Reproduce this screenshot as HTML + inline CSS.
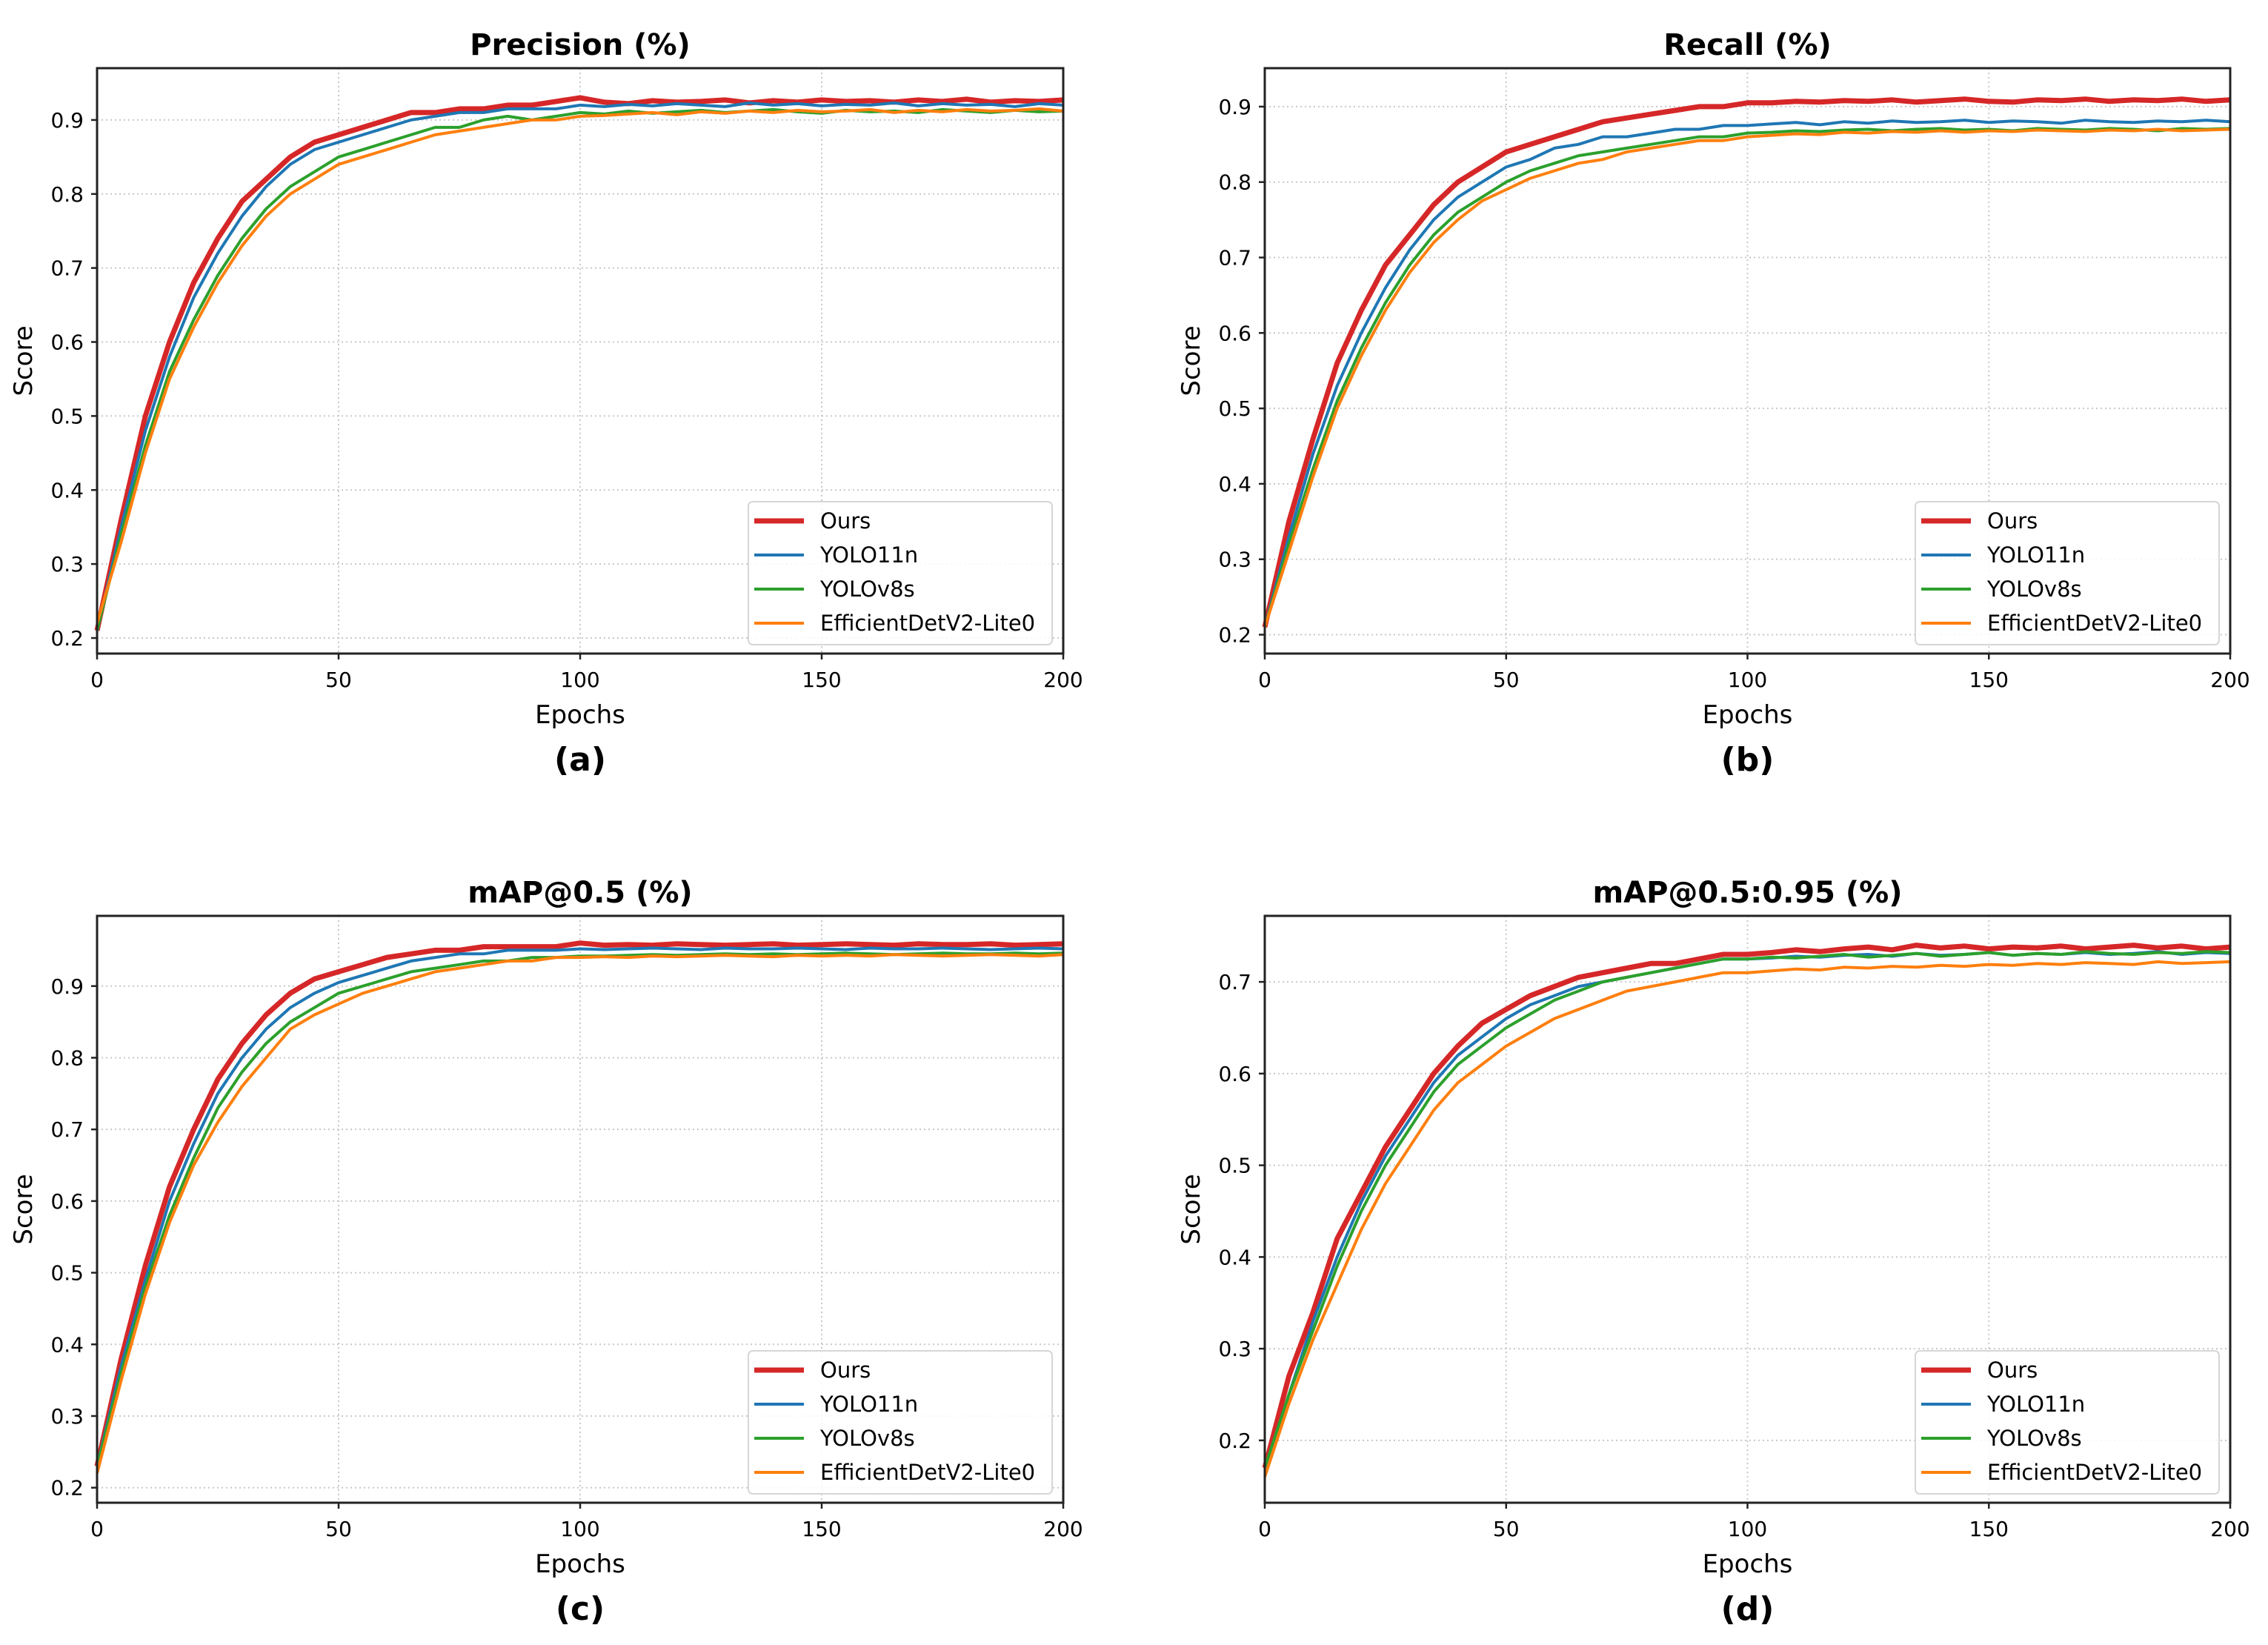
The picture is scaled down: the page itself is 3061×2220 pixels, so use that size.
<!DOCTYPE html>
<html><head><meta charset="utf-8">
<style>
html,body{margin:0;padding:0;background:#fff;}
svg{display:block;}
text{font-family:"DejaVu Sans","Liberation Sans",sans-serif;fill:#000;}
</style></head>
<body>
<svg id="fig" width="3061" height="2220" viewBox="0 0 3061 2220" xmlns="http://www.w3.org/2000/svg"></svg>
<script>
// ---- data (sampled every 5 epochs) ----
const epochs = [0,5,10,15,20,25,30,35,40,45,50,55,60,65,70,75,80,85,90,95,100,105,110,115,120,125,130,135,140,145,150,155,160,165,170,175,180,185,190,195,200];
const seriesNames = ["Ours","YOLO11n","YOLOv8s","EfficientDetV2-Lite0"];
const panelTitles = ["Precision (%)","Recall (%)","mAP@0.5 (%)","mAP@0.5:0.95 (%)"];
const panelLetters = ["(a)","(b)","(c)","(d)"];
const xTicks = [0,50,100,150,200];
const yTicksA = [0.2,0.3,0.4,0.5,0.6,0.7,0.8,0.9];
const yTicksD = [0.2,0.3,0.4,0.5,0.6,0.7];

const precOurs = [0.21,0.36,0.50,0.60,0.68,0.74,0.79,0.82,0.85,0.87,0.88,0.89,0.90,0.91,0.91,0.915,0.915,0.92,0.92,0.925,0.93,0.924,0.922,0.926,0.924,0.925,0.927,0.923,0.926,0.924,0.927,0.925,0.926,0.924,0.927,0.925,0.928,0.924,0.926,0.925,0.927];
const precYolo11 = [0.21,0.35,0.48,0.58,0.66,0.72,0.77,0.81,0.84,0.86,0.87,0.88,0.89,0.90,0.905,0.91,0.91,0.915,0.915,0.915,0.92,0.918,0.921,0.919,0.922,0.92,0.918,0.923,0.92,0.922,0.919,0.921,0.92,0.923,0.919,0.922,0.92,0.921,0.918,0.922,0.92];
const precV8 = [0.21,0.34,0.46,0.56,0.63,0.69,0.74,0.78,0.81,0.83,0.85,0.86,0.87,0.88,0.89,0.89,0.90,0.905,0.90,0.905,0.91,0.908,0.912,0.909,0.911,0.913,0.91,0.912,0.914,0.911,0.909,0.913,0.911,0.912,0.91,0.914,0.912,0.91,0.913,0.911,0.912];
const precEff = [0.22,0.33,0.45,0.55,0.62,0.68,0.73,0.77,0.80,0.82,0.84,0.85,0.86,0.87,0.88,0.885,0.89,0.895,0.90,0.90,0.905,0.906,0.908,0.91,0.907,0.911,0.909,0.912,0.91,0.913,0.911,0.912,0.914,0.91,0.913,0.911,0.914,0.912,0.913,0.915,0.912];

const recOurs = [0.21,0.35,0.46,0.56,0.63,0.69,0.73,0.77,0.80,0.82,0.84,0.85,0.86,0.87,0.88,0.885,0.89,0.895,0.90,0.90,0.905,0.905,0.907,0.906,0.908,0.907,0.909,0.906,0.908,0.91,0.907,0.906,0.909,0.908,0.91,0.907,0.909,0.908,0.91,0.907,0.909];
const recYolo11 = [0.21,0.33,0.44,0.53,0.60,0.66,0.71,0.75,0.78,0.80,0.82,0.83,0.845,0.85,0.86,0.86,0.865,0.87,0.87,0.875,0.875,0.877,0.879,0.876,0.88,0.878,0.881,0.879,0.88,0.882,0.879,0.881,0.88,0.878,0.882,0.88,0.879,0.881,0.88,0.882,0.88];
const recV8 = [0.21,0.32,0.42,0.51,0.58,0.64,0.69,0.73,0.76,0.78,0.80,0.815,0.825,0.835,0.84,0.845,0.85,0.855,0.86,0.86,0.865,0.866,0.868,0.867,0.869,0.87,0.868,0.87,0.871,0.869,0.87,0.868,0.871,0.87,0.869,0.871,0.87,0.868,0.871,0.87,0.871];
const recEff = [0.21,0.31,0.41,0.50,0.57,0.63,0.68,0.72,0.75,0.775,0.79,0.805,0.815,0.825,0.83,0.84,0.845,0.85,0.855,0.855,0.86,0.862,0.864,0.863,0.866,0.865,0.867,0.866,0.868,0.866,0.868,0.867,0.869,0.868,0.867,0.869,0.868,0.87,0.868,0.869,0.87];

const m50Ours = [0.23,0.38,0.51,0.62,0.70,0.77,0.82,0.86,0.89,0.91,0.92,0.93,0.94,0.945,0.95,0.95,0.955,0.955,0.955,0.955,0.96,0.957,0.958,0.957,0.959,0.958,0.957,0.958,0.959,0.957,0.958,0.959,0.958,0.957,0.959,0.958,0.958,0.959,0.957,0.958,0.959];
const m50Yolo11 = [0.23,0.37,0.49,0.60,0.68,0.75,0.80,0.84,0.87,0.89,0.905,0.915,0.925,0.935,0.94,0.945,0.945,0.95,0.95,0.95,0.952,0.951,0.952,0.953,0.952,0.951,0.953,0.952,0.952,0.953,0.952,0.951,0.953,0.952,0.952,0.953,0.952,0.951,0.952,0.953,0.952];
const m50V8 = [0.23,0.36,0.48,0.58,0.66,0.73,0.78,0.82,0.85,0.87,0.89,0.90,0.91,0.92,0.925,0.93,0.935,0.935,0.94,0.94,0.942,0.942,0.943,0.944,0.943,0.944,0.945,0.944,0.945,0.944,0.945,0.946,0.945,0.944,0.945,0.946,0.945,0.945,0.946,0.945,0.946];
const m50Eff = [0.22,0.35,0.47,0.57,0.65,0.71,0.76,0.80,0.84,0.86,0.875,0.89,0.90,0.91,0.92,0.925,0.93,0.935,0.935,0.94,0.94,0.941,0.94,0.942,0.941,0.942,0.943,0.942,0.941,0.943,0.942,0.943,0.942,0.944,0.943,0.942,0.943,0.944,0.943,0.942,0.944];

const m95Ours = [0.17,0.27,0.34,0.42,0.47,0.52,0.56,0.60,0.63,0.655,0.67,0.685,0.695,0.705,0.71,0.715,0.72,0.72,0.725,0.73,0.73,0.732,0.735,0.733,0.736,0.738,0.735,0.74,0.737,0.739,0.736,0.738,0.737,0.739,0.736,0.738,0.74,0.737,0.739,0.736,0.738];
const m95Yolo11 = [0.17,0.25,0.33,0.40,0.46,0.51,0.55,0.59,0.62,0.64,0.66,0.675,0.685,0.695,0.70,0.705,0.71,0.715,0.72,0.725,0.725,0.726,0.728,0.727,0.729,0.73,0.728,0.731,0.729,0.73,0.732,0.729,0.731,0.73,0.732,0.73,0.731,0.733,0.73,0.732,0.731];
const m95V8 = [0.17,0.25,0.32,0.39,0.45,0.50,0.54,0.58,0.61,0.63,0.65,0.665,0.68,0.69,0.70,0.705,0.71,0.715,0.72,0.725,0.725,0.727,0.726,0.728,0.73,0.727,0.729,0.731,0.728,0.73,0.732,0.729,0.731,0.73,0.733,0.731,0.73,0.732,0.731,0.733,0.732];
const m95Eff = [0.16,0.24,0.31,0.37,0.43,0.48,0.52,0.56,0.59,0.61,0.63,0.645,0.66,0.67,0.68,0.69,0.695,0.70,0.705,0.71,0.71,0.712,0.714,0.713,0.716,0.715,0.717,0.716,0.718,0.717,0.719,0.718,0.72,0.719,0.721,0.72,0.719,0.722,0.72,0.721,0.722];

const panelData = [
  [precOurs,precYolo11,precV8,precEff],
  [recOurs,recYolo11,recV8,recEff],
  [m50Ours,m50Yolo11,m50V8,m50Eff],
  [m95Ours,m95Yolo11,m95V8,m95Eff]
];

// ---- layout ----
const colors = ["#d62728","#1f77b4","#2ca02c","#ff7f0e"];
const widths = [7,4,4,4];
const panels = [
  {x0:131,x1:1435,y0:92,y1:882,v0:0.179,v1:0.970,ticks:yTicksA,id:"precision"},
  {x0:1707,x1:3010,y0:92,y1:882,v0:0.175,v1:0.951,ticks:yTicksA,id:"recall"},
  {x0:131,x1:1435,y0:1236,y1:2028,v0:0.179,v1:0.998,ticks:yTicksA,id:"map50"},
  {x0:1707,x1:3010,y0:1236,y1:2028,v0:0.132,v1:0.772,ticks:yTicksD,id:"map50-95"}
];
const NS = "http://www.w3.org/2000/svg";
const svg = document.getElementById("fig");
function mk(tag, attrs, parent){
  const e = document.createElementNS(NS, tag);
  for (const k in attrs) e.setAttribute(k, attrs[k]);
  (parent||svg).appendChild(e);
  return e;
}

panels.forEach((p, pi) => {
  const g = mk("g", {});
  
  
  const xs = v => p.x0 + (v - 0) / 200 * (p.x1 - p.x0);
  const ys = v => p.y1 - (v - p.v0) / (p.v1 - p.v0) * (p.y1 - p.y0);

  // grid
  xTicks.forEach(t => {
    const l = mk("line", {x1:xs(t), x2:xs(t), y1:p.y0, y2:p.y1, stroke:"#c8c8c8", "stroke-width":2, "stroke-dasharray":"2,4"}, g);
    
    
  });
  p.ticks.forEach(t => {
    const l = mk("line", {x1:p.x0, x2:p.x1, y1:ys(t), y2:ys(t), stroke:"#c8c8c8", "stroke-width":2, "stroke-dasharray":"2,4"}, g);
    
    
  });

  // series
  panelData[pi].forEach((vals, si) => {
    const pts = vals.map((v, i) => xs(epochs[i]).toFixed(1) + "," + ys(v).toFixed(1)).join(" ");
    const pl = mk("polyline", {points:pts, fill:"none", stroke:colors[si], "stroke-width":widths[si], "stroke-linejoin":"round"}, g);
    
    
  });

  // frame
  const fr = mk("rect", {x:p.x0, y:p.y0, width:p.x1-p.x0, height:p.y1-p.y0, fill:"none", stroke:"#222", "stroke-width":3}, g);
  
  

  // x ticks
  xTicks.forEach(t => {
    mk("line", {x1:xs(t), x2:xs(t), y1:p.y1, y2:p.y1+8, stroke:"#222", "stroke-width":2.5}, g);
    const tx = mk("text", {x:xs(t), y:p.y1+45, "font-size":28, "text-anchor":"middle"}, g);
    tx.textContent = t;
    
    
  });
  // y ticks
  p.ticks.forEach(t => {
    mk("line", {x1:p.x0-8, x2:p.x0, y1:ys(t), y2:ys(t), stroke:"#222", "stroke-width":2.5}, g);
    const tx = mk("text", {x:p.x0-18, y:ys(t)+10, "font-size":28, "text-anchor":"end"}, g);
    tx.textContent = t.toFixed(1);
    
    
  });

  const cx = (p.x0 + p.x1) / 2;
  const title = mk("text", {x:cx, y:p.y0-18, "font-size":40, "font-weight":"bold", "text-anchor":"middle"}, g);
  title.textContent = panelTitles[pi];
  
  

  const xl = mk("text", {x:cx, y:p.y1+94, "font-size":34, "text-anchor":"middle"}, g);
  xl.textContent = "Epochs";
  
  

  const yl = mk("text", {x:0, y:0, "font-size":34, "text-anchor":"middle", transform:"translate(" + (p.x0-88) + "," + ((p.y0+p.y1)/2) + ") rotate(-90)"}, g);
  yl.textContent = "Score";
  
  

  const lt = mk("text", {x:cx, y:p.y1+158, "font-size":44, "font-weight":"bold", "text-anchor":"middle"}, g);
  lt.textContent = panelLetters[pi];
  
  

  // legend
  const lg = mk("g", {}, g);
  
  
  const bx1 = p.x1 - 15, by1 = p.y1 - 12, bx0 = bx1 - 410, by0 = by1 - 193;
  mk("rect", {x:bx0, y:by0, width:bx1-bx0, height:by1-by0, rx:6, fill:"#fff", "fill-opacity":0.85, stroke:"#d6d6d6", "stroke-width":2}, lg);
  seriesNames.forEach((n, si) => {
    const yy = by0 + 26 + si * 46;
    const e = mk("g", {}, lg);
    
    
    mk("line", {x1:bx0+8, x2:bx0+75, y1:yy, y2:yy, stroke:colors[si], "stroke-width":widths[si]}, e);
    const t = mk("text", {x:bx0+97, y:yy+10, "font-size":29}, e);
    t.textContent = n;
  });
});
</script>
</body></html>
